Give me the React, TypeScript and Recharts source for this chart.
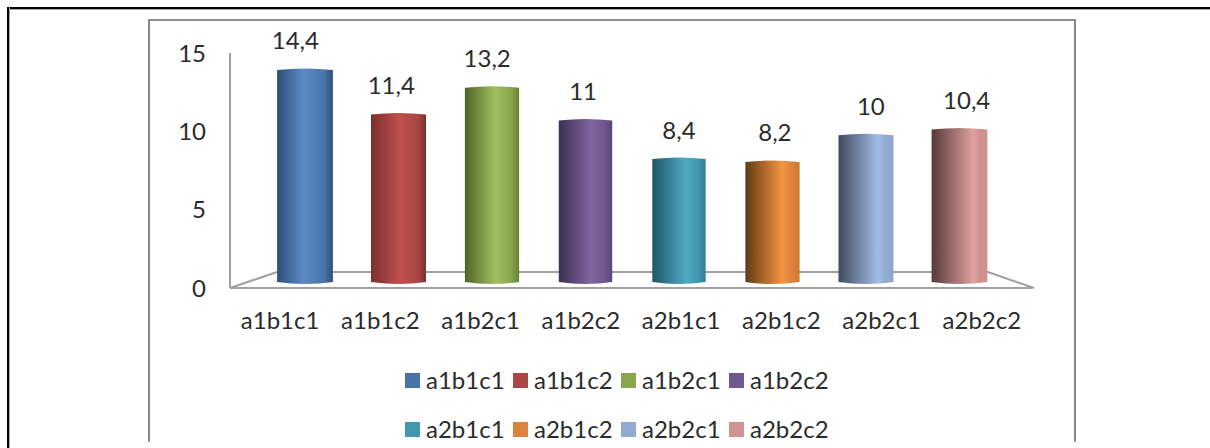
import { BarChart, Bar, XAxis, YAxis, LabelList, Legend, Customized } from "recharts";

const categories = ["a1b1c1", "a1b1c2", "a1b2c1", "a1b2c2", "a2b1c1", "a2b1c2", "a2b2c1", "a2b2c2"];
const values = [14.4, 11.4, 13.2, 11, 8.4, 8.2, 10, 10.4];
const yTicks = [0, 5, 10, 15];

const legendColors = ["#4674a8", "#aa4644", "#8aa64c", "#71588f", "#4198af", "#db843d", "#93a9cf", "#d19392"];
const edgeColors = ["#2c4f7a", "#7a302e", "#4f6428", "#3c2f50", "#1f5766", "#5f3a14", "#3e4a5e", "#54393a"];
const glowColors = ["#5b8bc4", "#c0504d", "#a0c060", "#8165a2", "#4fabc6", "#f59440", "#a4bde4", "#e3a2a2"];
const rightColors = ["#2f4f78", "#7a302e", "#66803a", "#5a4578", "#2f7f96", "#cc7a34", "#8ea6ce", "#cf9090"];

const FONT = "Lato, 'Open Sans', sans-serif";
const TEXT = "#2b2b2b";
const AXIS = "#a0a0a0";

const data = categories.map((name, i) => ({ name, value: values[i] }));

function Cylinder(props: any) {
  const { x, y, width, height, index } = props;
  const w = 53 + Math.abs(index - 3.5) * 0.8;
  const left = x + width / 2 - w / 2;
  const right = left + w;
  const bottom = y + height;
  const d = `M${left},${y + 1} Q${left + w / 2},${y - 2} ${right},${y + 1} L${right},${bottom - 1} Q${left + w / 2},${bottom + 3} ${left},${bottom - 1} Z`;
  return <path d={d} fill={`url(#cyl${index})`} />;
}

function DataLabel(props: any) {
  const { x, y, width, index, value } = props;
  // labels drift outward from the bars because of the 3D perspective
  const cx = x + width / 2 + (index - 4) * 2.4;
  return (
    <text x={cx} y={y - 28} dy="0.35em" textAnchor="middle" fontFamily={FONT} fontSize={24} fill={TEXT}>
      {String(value).replace(".", ",")}
    </text>
  );
}

function Floor(props: any) {
  const { offset } = props;
  const l = offset?.left ?? 230;
  const r = l + (offset?.width ?? 802);
  const b = (offset?.top ?? 53) + (offset?.height ?? 235);
  return (
    <g stroke={AXIS} strokeWidth={2} fill="none">
      <path d={`M${l},${b} L${l + 47},${b - 16} L${r - 44},${b - 16} L${r + 2},${b}`} />
    </g>
  );
}

function LegendRows() {
  return (
    <div
      style={{
        display: "grid",
        gridTemplateColumns: "repeat(4, 108px)",
        rowGap: 21,
        fontFamily: FONT,
        fontSize: 24,
        lineHeight: "28px",
        color: TEXT,
      }}
    >
      {categories.map((name, i) => (
        <div key={name} style={{ display: "flex", alignItems: "center", whiteSpace: "nowrap" }}>
          <span style={{ width: 15, height: 15, background: legendColors[i], marginRight: 6, flex: "none" }} />
          {name}
        </div>
      ))}
    </div>
  );
}

export default function App() {
  return (
    <div style={{ position: "absolute", left: 0, top: 0, width: 1210, height: 448, overflow: "hidden", background: "#fff" }}>
      {/* page rules around the pasted chart */}
      <div style={{ position: "absolute", left: 7, top: 7, width: 1203, height: 2, background: "#000", borderBottom: "1px solid #aaa" }} />
      <div style={{ position: "absolute", left: 7, top: 7, width: 2, height: 441, background: "#000", borderRight: "1px solid #aaa" }} />
      <div style={{ position: "absolute", left: 148, top: 19, width: 928, height: 423, borderLeft: "2px solid #8c8c8c", borderTop: "2px solid #8c8c8c", borderRight: "2px solid #8c8c8c", boxSizing: "border-box" }} />

      <BarChart
        width={1210}
        height={448}
        data={data}
        margin={{ top: 53, right: 178, bottom: 120, left: 170 }}
        style={{ position: "absolute", left: 0, top: 0 }}
      >
        <defs>
          {categories.map((name, i) => (
            <linearGradient key={name} id={`cyl${i}`} x1="0" y1="0" x2="1" y2="0">
              <stop offset="0%" stopColor={edgeColors[i]} />
              <stop offset={`${48 + i * 4}%`} stopColor={glowColors[i]} />
              <stop offset="85%" stopColor={legendColors[i]} />
              <stop offset="100%" stopColor={rightColors[i]} />
            </linearGradient>
          ))}
        </defs>
        <XAxis
          xAxisId="labels"
          dataKey="name"
          height={40}
          interval={0}
          tickLine={false}
          tickMargin={18}
          axisLine={{ stroke: AXIS, strokeWidth: 2 }}
          tick={{ fontFamily: FONT, fontSize: 24, fill: TEXT }}
        />
        <XAxis xAxisId="bars" dataKey="name" hide height={0} padding={{ left: 28, right: 26 }} />
        <YAxis
          yAxisId="labels"
          width={60}
          domain={[0, 15]}
          ticks={yTicks}
          tickLine={false}
          tickMargin={18}
          axisLine={{ stroke: AXIS, strokeWidth: 2 }}
          tick={{ fontFamily: FONT, fontSize: 24, fill: TEXT }}
        />
        <YAxis yAxisId="bars" hide width={0} domain={[-0.336, 15.47]} />
        <Customized component={Floor} />
        {/* invisible series so the label axes keep their ticks */}
        <Bar dataKey="value" xAxisId="labels" yAxisId="labels" fill="none" legendType="none" isAnimationActive={false} />
        <Bar
          dataKey="value"
          xAxisId="bars"
          yAxisId="bars"
          barSize={54}
          shape={Cylinder}
          isAnimationActive={false}
        >
          <LabelList dataKey="value" content={DataLabel} />
        </Bar>
        <Legend
          layout="horizontal"
          verticalAlign="middle"
          content={LegendRows}
          wrapperStyle={{ position: "absolute", left: 405, top: 366, width: 440, height: 80 }}
        />
      </BarChart>
    </div>
  );
}
